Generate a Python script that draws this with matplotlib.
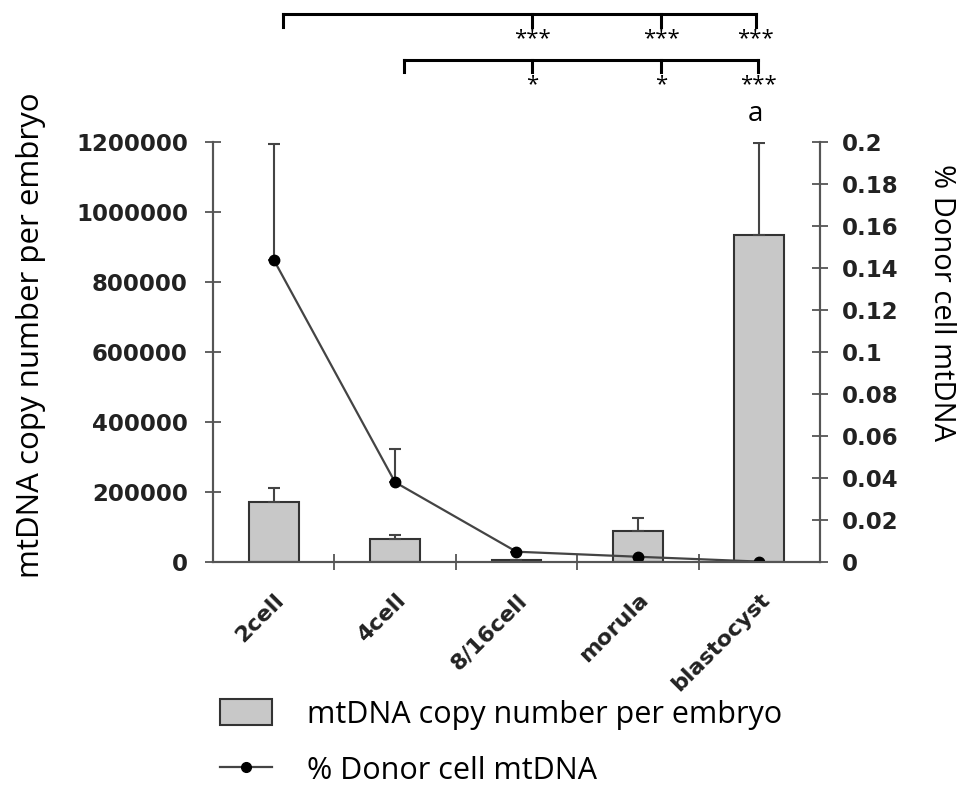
import matplotlib
matplotlib.use("Agg")
import matplotlib.pyplot as plt
from matplotlib.patches import Rectangle
from matplotlib.lines import Line2D

# data
stages = ["2cell", "4cell", "8/16cell", "morula", "blastocyst"]
copy_number = [171000, 65000, 5000, 88000, 934000]
copy_number_err = [41000, 11000, 0, 37000, 262000]
donor_pct = [0.144, 0.038, 0.0049, 0.0025, 0.0002]
donor_pct_err = [0.055, 0.016, 0.0, 0.0, 0.0]

left_ticks = [0, 200000, 400000, 600000, 800000, 1000000, 1200000]
right_ticks = [0, 0.02, 0.04, 0.06, 0.08, 0.1, 0.12, 0.14, 0.16, 0.18, 0.2]
right_labels = ["0", "0.02", "0.04", "0.06", "0.08", "0.1", "0.12", "0.14",
                "0.16", "0.18", "0.2"]

# significance brackets: (left end, [tick x], [labels], y level)
brackets = [
    (0.08, [2.13, 3.19, 3.97], ["***", "***", "***"], 1565000),
    (1.07, [2.13, 3.19, 3.99], ["*", "*", "***"], 1435000),
]

SANS = ["Open Sans", "DejaVu Sans"]
GRAY = "#555555"

fig = plt.figure(figsize=(9.58, 7.89), dpi=100)
ax = fig.add_axes([0.2223, 0.2877, 0.6336, 0.5323])
ax2 = ax.twinx()

x = list(range(len(stages)))
ax.bar(x, copy_number, width=0.41, color="#c8c8c8", edgecolor="#333333",
       linewidth=1.5, zorder=2)
ax.errorbar(x, copy_number, yerr=[[0] * len(x), copy_number_err], fmt="none",
            ecolor="#444444", elinewidth=1.5, capsize=4, capthick=1.5, zorder=3)

ax2.errorbar(x, donor_pct, yerr=[[0] * len(x), donor_pct_err], fmt="none",
             ecolor="#444444", elinewidth=1.5, capsize=4, capthick=1.5)
ax2.plot(x, donor_pct, color="#444444", linewidth=1.6, marker="o",
         markersize=7.5, markerfacecolor="black", markeredgecolor="black")

ax.set_xlim(-0.5, 4.5)
ax.set_ylim(0, 1200000)
ax2.set_ylim(0, 0.2)

ax.set_yticks(left_ticks)
ax.set_yticklabels([str(v) for v in left_ticks], fontweight="bold",
                   fontsize=16.5, color="#222222")
ax2.set_yticks(right_ticks)
ax2.set_yticklabels(right_labels, fontweight="bold", fontsize=16.5,
                    color="#222222")

# category ticks sit between the bars, labels at bar centres
ax.set_xticks([i + 0.5 for i in range(len(stages) - 1)])
ax.set_xticklabels([])
ax.set_xticks(x, minor=True)
ax.set_xticklabels(stages, minor=True, rotation=45, ha="right", va="top",
                   rotation_mode="anchor", fontweight="bold", fontsize=16,
                   color="#222222")
ax.tick_params(axis="x", which="minor", length=0, pad=20)
ax.tick_params(axis="x", which="major", direction="inout", length=12,
               width=1.3, color=GRAY)
ax.tick_params(axis="y", direction="inout", length=12, width=1.3,
               color=GRAY, pad=12)
ax2.tick_params(axis="y", direction="inout", length=12, width=1.3,
                color=GRAY, pad=10)

for a in (ax, ax2):
    a.spines["top"].set_visible(False)
    for s in ("left", "right", "bottom"):
        a.spines[s].set_color(GRAY)
        a.spines[s].set_linewidth(1.5)

fig.text(31 / 958, 1 - 335 / 789, "mtDNA copy number per embryo",
         family=SANS, fontsize=22.5, rotation=90, ha="center", va="center")
fig.text(942 / 958, 1 - 302 / 789, "% Donor cell mtDNA", family=SANS,
         fontsize=21, rotation=-90, ha="center", va="center")

# brackets above the plot
for x0, ticks, labels, y in brackets:
    ax.plot([x0, ticks[-1]], [y, y], color="black", lw=2.2, clip_on=False)
    ax.plot([x0, x0], [y, y - 35000], color="black", lw=2.2, clip_on=False)
    for tx, lab in zip(ticks, labels):
        ax.plot([tx, tx], [y, y - 35000], color="black", lw=2.2,
                clip_on=False)
        ax.text(tx, y - 40000, lab, ha="center", va="top", fontsize=16,
                family=SANS, clip_on=False)
ax.text(3.97, 1240000, "a", ha="center", va="bottom", fontsize=20,
        family=SANS)

handles = [
    Rectangle((0, 0), 1, 1, facecolor="#c8c8c8", edgecolor="#333333",
              linewidth=1.5),
    Line2D([], [], color="#444444", linewidth=1.6, marker="o",
           markersize=7, markerfacecolor="black", markeredgecolor="black"),
]
fig.legend(handles, ["mtDNA copy number per embryo", "% Donor cell mtDNA"],
           loc="upper left", bbox_to_anchor=(0.217, 0.129),
           frameon=False, prop={"family": SANS, "size": 22},
           handlelength=1.7, handleheight=0.9, handletextpad=1.15,
           labelspacing=0.85, borderaxespad=0)

fig.savefig("out.png", dpi=100)
